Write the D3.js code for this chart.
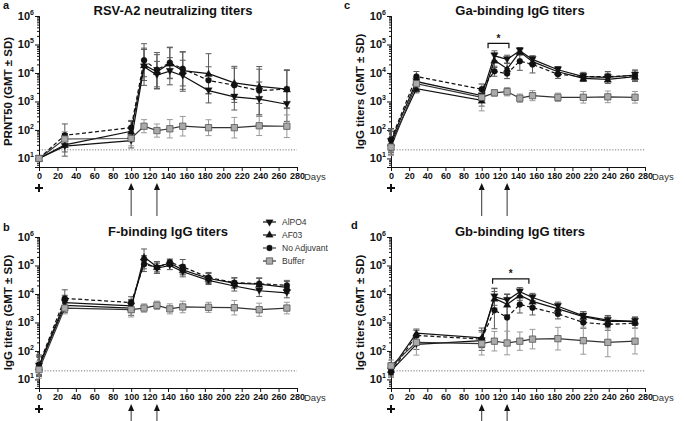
<!DOCTYPE html>
<html><head><meta charset="utf-8">
<script src="https://cdn.jsdelivr.net/npm/d3@7"></script>
<style>body{margin:0;background:#fff;} svg{display:block;font-family:"Liberation Sans",Arial,sans-serif;}</style>
</head><body><svg id="chart" width="685" height="421"></svg>
<script>
// ---------- data ----------
const days = [0, 28, 100, 114, 128, 142, 156, 184, 212, 239, 269];
const xTicks = [0, 20, 40, 60, 80, 100, 120, 140, 160, 180, 200, 220, 240, 260, 280];
const yTicks = [10, 100, 1000, 10000, 100000, 1000000];
const groupNames = ["AlPO4", "AF03", "No Adjuvant", "Buffer"];
const boostDays = [100, 128];
const lod = 20;

// panel a: RSV-A2 neutralizing titers (GMT), SD as geometric factor
const aAlpo4 = [10, 27, 42, 16500, 8500, 11500, 8000, 2400, 1450, 1200, 800];
const aAf03 = [10, 30, 90, 19000, 11000, 22000, 12000, 9500, 4500, 3400, 2700];
const aNoAdj = [10, 65, 120, 28000, 13000, 23000, 14000, 5500, 3700, 2400, 2700];
const aBuffer = [10, 48, 50, 135, 95, 110, 135, 120, 120, 140, 135];
const aAlpo4Sd = [1.1, 1.6, 1.8, 4.5, 3.0, 3.0, 3.5, 2.7, 2.9, 4.0, 4.0];
const aAf03Sd = [1.1, 2.5, 2.2, 3.5, 4.0, 3.5, 4.5, 5.0, 3.8, 4.0, 4.5];
const aNoAdjSd = [1.1, 2.5, 1.8, 3.8, 4.0, 3.5, 4.0, 3.0, 4.0, 7.0, 4.8];
const aBufferSd = [1.1, 1.8, 1.8, 1.7, 1.7, 2.1, 2.2, 1.9, 2.3, 2.2, 2.5];

// panel b: F-binding IgG titers
const bAlpo4 = [30, 5000, 3800, 130000, 80000, 100000, 60000, 30000, 19000, 13000, 11000];
const bAf03 = [28, 4000, 3200, 200000, 90000, 120000, 70000, 35000, 24000, 22000, 17000];
const bNoAdj = [33, 7000, 5000, 110000, 85000, 130000, 90000, 38000, 25000, 23000, 20000];
const bBuffer = [22, 3200, 2800, 3200, 4000, 3000, 3500, 3400, 3300, 2800, 3200];
const bAlpo4Sd = [2.2, 1.8, 1.7, 1.7, 1.5, 1.4, 1.5, 1.4, 1.5, 1.6, 1.5];
const bAf03Sd = [2.2, 1.8, 1.8, 1.9, 1.5, 1.3, 1.5, 1.5, 1.5, 1.6, 1.6];
const bNoAdjSd = [2.2, 2.0, 1.6, 1.8, 1.6, 1.3, 1.8, 1.5, 1.5, 1.6, 1.5];
const bBufferSd = [2.0, 1.6, 1.8, 1.4, 1.4, 1.5, 1.6, 1.5, 1.8, 1.7, 1.6];

// panel c: Ga-binding IgG titers
const cAlpo4 = [40, 5000, 1600, 40000, 30000, 60000, 30000, 13000, 7500, 7000, 8500];
const cAf03 = [35, 2800, 1100, 28000, 14000, 55000, 25000, 11000, 6500, 6000, 7500];
const cNoAdj = [45, 7500, 2700, 11500, 9500, 26000, 20000, 9000, 7500, 7500, 8000];
const cBuffer = [25, 4200, 1400, 2000, 2200, 1300, 1600, 1400, 1400, 1450, 1400];
const cAlpo4Sd = [2.5, 1.4, 1.5, 1.5, 1.4, 1.3, 1.3, 1.3, 1.3, 1.4, 1.4];
const cAf03Sd = [2.5, 1.4, 1.6, 1.8, 1.6, 1.3, 1.3, 1.3, 1.3, 1.4, 1.4];
const cNoAdjSd = [2.5, 1.5, 1.5, 1.5, 1.5, 2.1, 2.0, 1.4, 1.4, 1.5, 1.6];
const cBufferSd = [2.0, 1.4, 3.0, 1.3, 1.4, 1.4, 1.5, 1.4, 1.6, 1.6, 1.6];

// panel d: Gb-binding IgG titers
const dAlpo4 = [20, 170, 230, 8000, 6000, 12000, 7500, 3700, 1700, 1200, 1100];
const dAf03 = [22, 420, 290, 7000, 4300, 9000, 5500, 3000, 1600, 1100, 1100];
const dNoAdj = [18, 350, 260, 2700, 1500, 4300, 3300, 2000, 1000, 850, 950];
const dBuffer = [30, 200, 180, 220, 190, 220, 260, 270, 230, 200, 220];
const dAlpo4Sd = [1.5, 1.5, 2.2, 2.0, 1.6, 1.4, 1.4, 1.4, 1.4, 1.4, 1.4];
const dAf03Sd = [1.5, 1.4, 2.2, 2.2, 2.3, 1.5, 1.5, 1.4, 1.5, 1.6, 1.4];
const dNoAdjSd = [1.5, 1.5, 2.0, 4.5, 6.5, 2.0, 1.8, 1.5, 1.6, 1.6, 1.5];
const dBufferSd = [1.6, 2.8, 2.5, 2.2, 2.6, 2.1, 2.2, 2.5, 3.0, 3.2, 2.8];

// significance brackets [startDay, endDay, level]
const cBracket = [107, 130, 110000];
const dBracket = [112, 152, 34000];

// ---------- drawing ----------
const svg = d3.select("#chart");
const styles = [
  {shape: "down", dash: null, stroke: "#111", fill: "#111", err: "#5a5a5a"},
  {shape: "up", dash: null, stroke: "#111", fill: "#111", err: "#5a5a5a"},
  {shape: "circle", dash: "4,2.5", stroke: "#111", fill: "#111", err: "#5a5a5a"},
  {shape: "square", dash: null, stroke: "#555", fill: "#aaaaaa", err: "#9a9a9a"}
];

function marker(sel, shape) {
  if (shape === "circle") sel.attr("d", d3.symbol(d3.symbolCircle, 28)());
  else if (shape === "square") sel.attr("d", d3.symbol(d3.symbolSquare, 40)());
  else sel.attr("d", d3.symbol(d3.symbolTriangle, 24)());
}

function drawPanel(p) {
  const g = svg.append("g");
  const x = d3.scaleLinear().domain([0, 280]).range([p.x0, p.x1]);
  const y = d3.scaleLog().domain([5, 1e6]).range([p.yb, p.yt]);

  // LOD dotted line
  g.append("line").attr("x1", x(0)).attr("x2", x(280)).attr("y1", y(lod)).attr("y2", y(lod))
    .attr("stroke", "#777").attr("stroke-width", 1).attr("stroke-dasharray", "1.2,1.6");

  // axes
  const xa = g.append("g").attr("transform", `translate(0,${p.yb})`)
    .call(d3.axisBottom(x).tickValues(xTicks).tickSize(4).tickSizeOuter(0).tickPadding(2));
  xa.selectAll("text").attr("font-size", 9).attr("font-weight", "bold").attr("fill", "#111")
    .attr("font-family", "Liberation Sans, Arial, sans-serif");
  xa.selectAll("line,path").attr("stroke", "#111");

  const minors = [];
  for (let e = 0; e < 6; e++) for (let m = 2; m <= 9; m++) { const v = m * Math.pow(10, e); if (v >= 5 && v < 1e6) minors.push(v); }
  const ym = g.append("g").attr("transform", `translate(${p.x0},0)`)
    .call(d3.axisLeft(y).tickValues(minors).tickSize(2).tickFormat(""));
  ym.selectAll("line,path").attr("stroke", "#111");
  const ya = g.append("g").attr("transform", `translate(${p.x0},0)`)
    .call(d3.axisLeft(y).tickValues(yTicks).tickSize(4).tickFormat(""));
  ya.selectAll("line,path").attr("stroke", "#111");
  yTicks.forEach(v => {
    const t = g.append("text").attr("x", p.x0 - 5).attr("y", y(v) + 4).attr("text-anchor", "end")
      .attr("font-size", 11).attr("font-weight", "bold").attr("fill", "#111");
    t.append("tspan").text("10");
    t.append("tspan").attr("font-size", 7).attr("dy", -5).text(String(Math.round(Math.log10(v))));
  });

  // "Days"
  g.append("text").attr("x", x(280) + 7).attr("y", p.yb + 13).attr("font-size", 9.5).attr("fill", "#333").text("Days");

  // title, letter, y label
  g.append("text").attr("x", p.tx).attr("y", p.yt - 1).attr("text-anchor", "middle")
    .attr("font-size", 13).attr("font-weight", "bold").attr("fill", "#111").text(p.title);
  g.append("text").attr("x", p.lx).attr("y", p.ly).attr("font-size", 11).attr("font-weight", "bold")
    .attr("fill", "#111").text(p.letter);
  g.append("text").attr("transform", `translate(${p.x0 - 27},${(p.yt + p.yb) / 2}) rotate(-90)`)
    .attr("text-anchor", "middle").attr("font-size", 11.5).attr("font-weight", "bold").attr("fill", "#111")
    .text(p.ylabel);

  // prime "+" and boost arrows
  const px = x(0), py = p.yb + 21;
  g.append("path").attr("d", `M${px - 4},${py}h8M${px},${py - 4}v8`).attr("stroke", "#111").attr("stroke-width", 2);
  boostDays.forEach(dd => {
    const ax = x(dd), at = p.yb + 16;
    g.append("path").attr("d", `M${ax},${at}l-3,7h6z`).attr("fill", "#111");
    g.append("line").attr("x1", ax).attr("x2", ax).attr("y1", at + 6).attr("y2", at + 33).attr("stroke", "#333").attr("stroke-width", 1);
  });

  // error bars
  p.series.forEach((s, i) => {
    const st = styles[i];
    const eb = g.append("g").attr("stroke", st.err).attr("stroke-width", 1).attr("fill", "none");
    s.vals.forEach((v, k) => {
      const cx = x(days[k]);
      const hi = y(v * s.sd[k]), lo = y(Math.max(v / s.sd[k], 5.2));
      eb.append("line").attr("x1", cx).attr("x2", cx).attr("y1", hi).attr("y2", lo);
      eb.append("line").attr("x1", cx - 3).attr("x2", cx + 3).attr("y1", hi).attr("y2", hi);
      if (v / s.sd[k] > 5.2) eb.append("line").attr("x1", cx - 3).attr("x2", cx + 3).attr("y1", lo).attr("y2", lo);
    });
  });
  // lines & markers
  p.series.forEach((s, i) => {
    const st = styles[i];
    const line = d3.line().x((v, k) => x(days[k])).y(v => y(v));
    g.append("path").datum(s.vals).attr("d", line).attr("fill", "none")
      .attr("stroke", i === 3 ? "#333" : "#111").attr("stroke-width", 1.2)
      .attr("stroke-dasharray", st.dash);
  });
  p.series.forEach((s, i) => {
    const st = styles[i];
    s.vals.forEach((v, k) => {
      const m = g.append("path").call(marker, st.shape).attr("fill", st.fill).attr("stroke", st.stroke)
        .attr("stroke-width", i === 3 ? 0.8 : 0.3);
      m.attr("transform", `translate(${x(days[k])},${y(v) + (st.shape === "up" ? 0.8 : st.shape === "down" ? -0.8 : 0)})${st.shape === "down" ? " rotate(180)" : ""}`);
    });
  });

  // bracket
  if (p.bracket) {
    const [b0, b1, lv] = p.bracket;
    const by = y(lv);
    g.append("path").attr("d", `M${x(b0)},${by + 5}V${by}H${x(b1)}V${by + 5}`)
      .attr("fill", "none").attr("stroke", "#111").attr("stroke-width", 1.2);
    g.append("text").attr("x", (x(b0) + x(b1)) / 2).attr("y", by - 1.5).attr("text-anchor", "middle")
      .attr("font-size", 10).attr("font-weight", "bold").attr("fill", "#111").text("*");
  }
}

const mk = (v1, s1, v2, s2, v3, s3, v4, s4) => [
  {vals: v1, sd: s1}, {vals: v2, sd: s2}, {vals: v3, sd: s3}, {vals: v4, sd: s4}];

drawPanel({letter: "a", lx: 3, ly: 9, title: "RSV-A2 neutralizing titers", tx: 173, ylabel: "PRNT50 (GMT \u00B1 SD)",
  x0: 39, x1: 297, yt: 16, yb: 167, series: mk(aAlpo4, aAlpo4Sd, aAf03, aAf03Sd, aNoAdj, aNoAdjSd, aBuffer, aBufferSd)});
drawPanel({letter: "b", lx: 3, ly: 231, title: "F-binding IgG titers", tx: 168, ylabel: "IgG titers (GMT \u00B1 SD)",
  x0: 39, x1: 297, yt: 237, yb: 388, series: mk(bAlpo4, bAlpo4Sd, bAf03, bAf03Sd, bNoAdj, bNoAdjSd, bBuffer, bBufferSd)});
drawPanel({letter: "c", lx: 344, ly: 9, title: "Ga-binding IgG titers", tx: 520, ylabel: "IgG titers (GMT \u00B1 SD)",
  x0: 391, x1: 645, yt: 16, yb: 167, series: mk(cAlpo4, cAlpo4Sd, cAf03, cAf03Sd, cNoAdj, cNoAdjSd, cBuffer, cBufferSd), bracket: cBracket});
drawPanel({letter: "d", lx: 351, ly: 229, title: "Gb-binding IgG titers", tx: 520, ylabel: "IgG titers (GMT \u00B1 SD)",
  x0: 391, x1: 645, yt: 237, yb: 388, series: mk(dAlpo4, dAlpo4Sd, dAf03, dAf03Sd, dNoAdj, dNoAdjSd, dBuffer, dBufferSd), bracket: dBracket});

// legend
const lg = svg.append("g");
groupNames.forEach((name, i) => {
  const st = styles[i];
  const ly = 222 + i * 13;
  lg.append("line").attr("x1", 263).attr("x2", 276).attr("y1", ly).attr("y2", ly)
    .attr("stroke", i === 3 ? "#333" : "#111").attr("stroke-width", 1.2).attr("stroke-dasharray", i === 2 ? "3,2" : null);
  lg.append("path").call(marker, st.shape).attr("fill", st.fill).attr("stroke", st.stroke).attr("stroke-width", i === 3 ? 0.8 : 0.3)
    .attr("transform", `translate(269.5,${ly})${st.shape === "down" ? " rotate(180)" : ""}`);
  lg.append("text").attr("x", 282).attr("y", ly + 3).attr("font-size", 8.5).attr("fill", "#333").text(name);
});
</script></body></html>
